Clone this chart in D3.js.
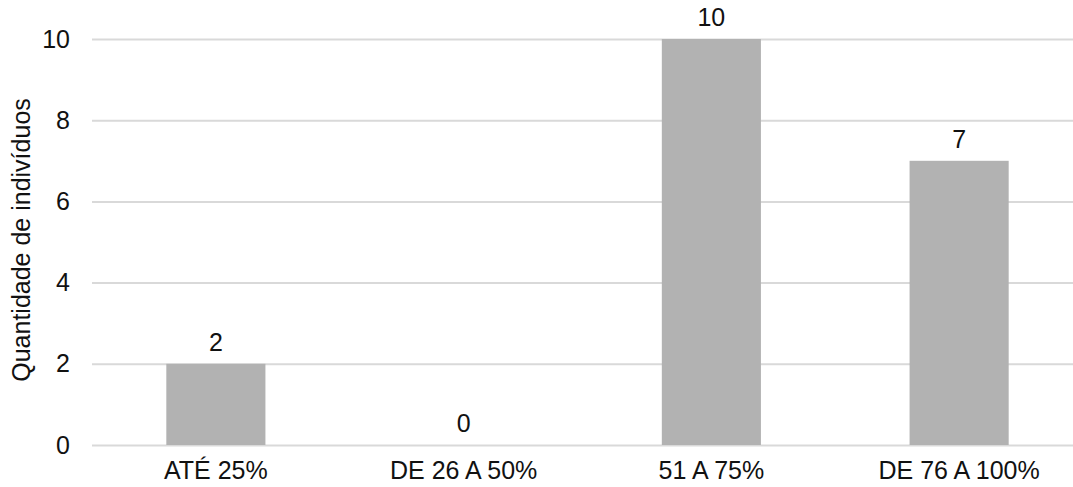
<!DOCTYPE html>
<html>
<head>
<meta charset="utf-8">
<script src="https://cdn.jsdelivr.net/npm/d3@7"></script>
<style>
  html, body { margin: 0; padding: 0; background: #fff; }
  svg text { font-family: "Liberation Sans", Arial, sans-serif; fill: #111; }
</style>
</head>
<body>
<svg id="chart" width="1073" height="487"></svg>
<script>
// Faixas de aproveitamento e número de indivíduos em cada uma
const categories = ["ATÉ 25%", "DE 26 A 50%", "51 A 75%", "DE 76 A 100%"];
const counts = [2, 0, 10, 7];
const yTicks = [0, 2, 4, 6, 8, 10];
const yTitle = "Quantidade de indivíduos";

const FS = 25;
const svg = d3.select("#chart");
const plot = { left: 92, right: 1083, top: 39, bottom: 445 };

const x = d3.scaleBand()
  .domain(categories)
  .range([plot.left, plot.right])
  .paddingInner(0.6)
  .paddingOuter(0.3);

const y = d3.scaleLinear()
  .domain([0, 10])
  .range([plot.bottom, plot.top]);

// Horizontal gridlines with tick labels on the left
const yAxis = d3.axisLeft(y)
  .tickValues(yTicks)
  .tickSize(-(plot.right - plot.left))
  .tickPadding(22);

const gy = svg.append("g")
  .attr("transform", `translate(${plot.left},0)`)
  .call(yAxis);
gy.select(".domain").remove();
gy.selectAll(".tick line").attr("stroke", "#d9d9d9").attr("stroke-width", 2);
gy.selectAll(".tick text")
  .attr("font-size", FS)
  .attr("font-family", "Liberation Sans, Arial, sans-serif")
  .attr("fill", "#111");

// Bars
const rows = categories.map((c, i) => ({ c, v: counts[i] }));
svg.append("g")
  .selectAll("rect")
  .data(rows)
  .join("rect")
  .attr("x", d => x(d.c))
  .attr("width", x.bandwidth())
  .attr("y", d => y(d.v))
  .attr("height", d => y(0) - y(d.v))
  .attr("fill", "#b2b2b2");

// Value labels above each bar
svg.append("g")
  .selectAll("text")
  .data(rows)
  .join("text")
  .attr("x", d => x(d.c) + x.bandwidth() / 2)
  .attr("y", d => y(d.v) - 13)
  .attr("text-anchor", "middle")
  .attr("font-size", FS)
  .text(d => d.v);

// Category labels
const xAxis = d3.axisBottom(x).tickSize(0).tickPadding(16);
const gx = svg.append("g")
  .attr("transform", `translate(0,${plot.bottom})`)
  .call(xAxis);
gx.select(".domain").remove();
gx.selectAll(".tick text")
  .attr("font-size", FS)
  .attr("font-family", "Liberation Sans, Arial, sans-serif")
  .attr("fill", "#111");

// Y axis title
svg.append("text")
  .attr("transform", `translate(30,${(plot.top + plot.bottom) / 2 - 2}) rotate(-90)`)
  .attr("text-anchor", "middle")
  .attr("font-size", FS)
  .text(yTitle);
</script>
</body>
</html>
